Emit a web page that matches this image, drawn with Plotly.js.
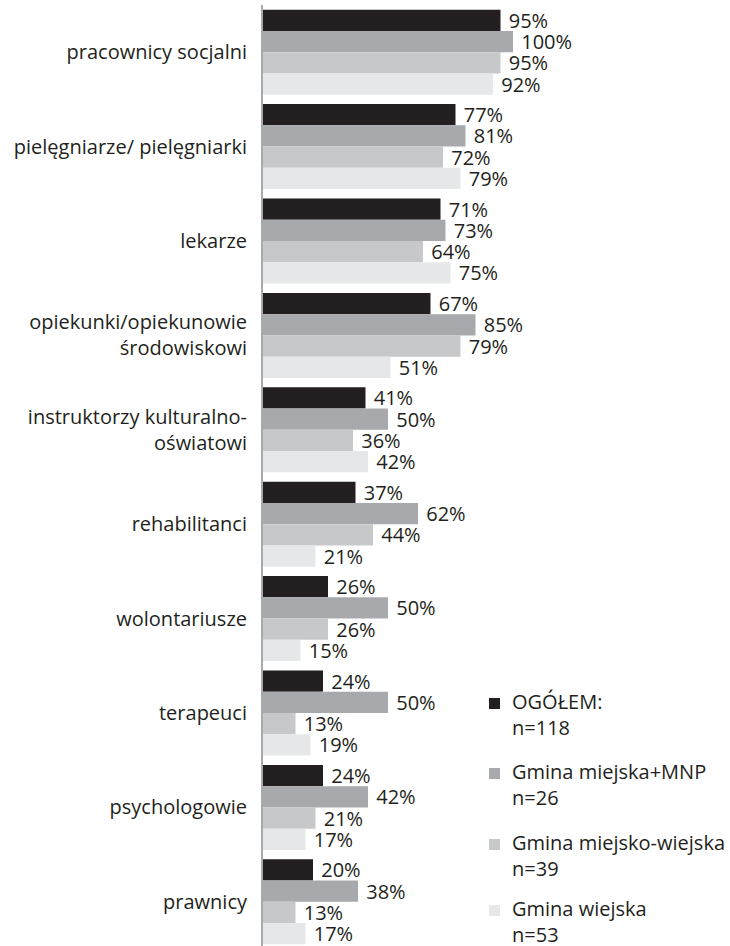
<!DOCTYPE html>
<html>
<head>
<meta charset="utf-8">
<script src="https://cdn.plot.ly/plotly-3.0.1.min.js"></script>
<style>html,body{margin:0;padding:0;background:#fff;}#chart{width:730px;height:946px;}</style>
</head>
<body>
<div id="chart"></div>
<script>
// ---- data ----
const categories = [
  "pracownicy socjalni",
  "pielęgniarze/ pielęgniarki",
  "lekarze",
  "opiekunki/opiekunowie<br>środowiskowi",
  "instruktorzy kulturalno-<br>oświatowi",
  "rehabilitanci",
  "wolontariusze",
  "terapeuci",
  "psychologowie",
  "prawnicy"
];
const seriesNames = ["OGÓŁEM:", "Gmina miejska+MNP", "Gmina miejsko-wiejska", "Gmina wiejska"];
const seriesN = ["n=118", "n=26", "n=39", "n=53"];
const ogolem        = [95, 77, 71, 67, 41, 37, 26, 24, 24, 20];
const miejskaMNP    = [100, 81, 73, 85, 50, 62, 50, 50, 42, 38];
const miejskoWiejska= [95, 72, 64, 79, 36, 44, 26, 13, 21, 13];
const wiejska       = [92, 79, 75, 51, 42, 21, 15, 19, 17, 17];

// ---- style ----
const seriesValues = [ogolem, miejskaMNP, miejskoWiejska, wiejska];
const colors = ["#231f20", "#a7a9ac", "#c7c8ca", "#e6e7e8"];
const FONT = "Open Sans, sans-serif";
const FS = 20;
const TXT = "#231f20";
const W = 730, H = 946;
const mL = 263, mR = 0, mT = 5, mB = 0;
const plotW = W - mL - mR, plotH = H - mT - mB;
const pxPerUnit = 2.5;

const traces = seriesValues.map((vals, i) => ({
  type: "bar",
  orientation: "h",
  name: seriesNames[i],
  y: categories,
  x: vals,
  marker: {color: colors[i], line: {width: 0}},
  texttemplate: "\u00a0%{x}%",
  textposition: "outside",
  constraintext: "none",
  cliponaxis: false,
  textfont: {family: FONT, size: FS, color: TXT},
  hoverinfo: "skip",
  showlegend: false
}));

// legend drawn as annotations + squares (pixel helper -> paper coords)
const px2x = p => (p - mL) / plotW;
const px2y = p => 1 - (p - mT) / plotH;
const legendTop = [693, 763, 834, 900];
const annotations = [];
const shapes = [];
seriesNames.forEach((nm, i) => {
  annotations.push({
    xref: "paper", yref: "paper", x: px2x(511), y: px2y(legendTop[i] - 6),
    xanchor: "left", yanchor: "top", align: "left", showarrow: false,
    borderpad: 0,
    text: nm + "<br>" + seriesN[i],
    font: {family: FONT, size: FS, color: TXT}
  });
  shapes.push({
    type: "rect", xref: "paper", yref: "paper",
    x0: px2x(489), x1: px2x(500), y0: px2y(legendTop[i] + 5), y1: px2y(legendTop[i] + 16),
    fillcolor: colors[i], line: {width: 0}
  });
});

const layout = {
  width: W, height: H,
  margin: {l: mL, r: mR, t: mT, b: mB, pad: 0},
  paper_bgcolor: "#ffffff", plot_bgcolor: "#ffffff",
  barmode: "group", bargap: 0.1, bargroupgap: 0,
  showlegend: false,
  font: {family: FONT, size: FS, color: TXT},
  xaxis: {range: [0, plotW / pxPerUnit], visible: false, fixedrange: true},
  yaxis: {
    type: "category",
    range: [plotH / 94.4 - 0.5, -0.5],
    showline: true, linecolor: "#a7a9ac", linewidth: 2,
    showgrid: false, zeroline: false, ticks: "",
    ticklabelstandoff: 10,
    tickfont: {family: FONT, size: FS, color: TXT},
    fixedrange: true
  },
  annotations: annotations,
  shapes: shapes
};

Plotly.newPlot("chart", traces, layout, {staticPlot: true, displayModeBar: false});
</script>
</body>
</html>
